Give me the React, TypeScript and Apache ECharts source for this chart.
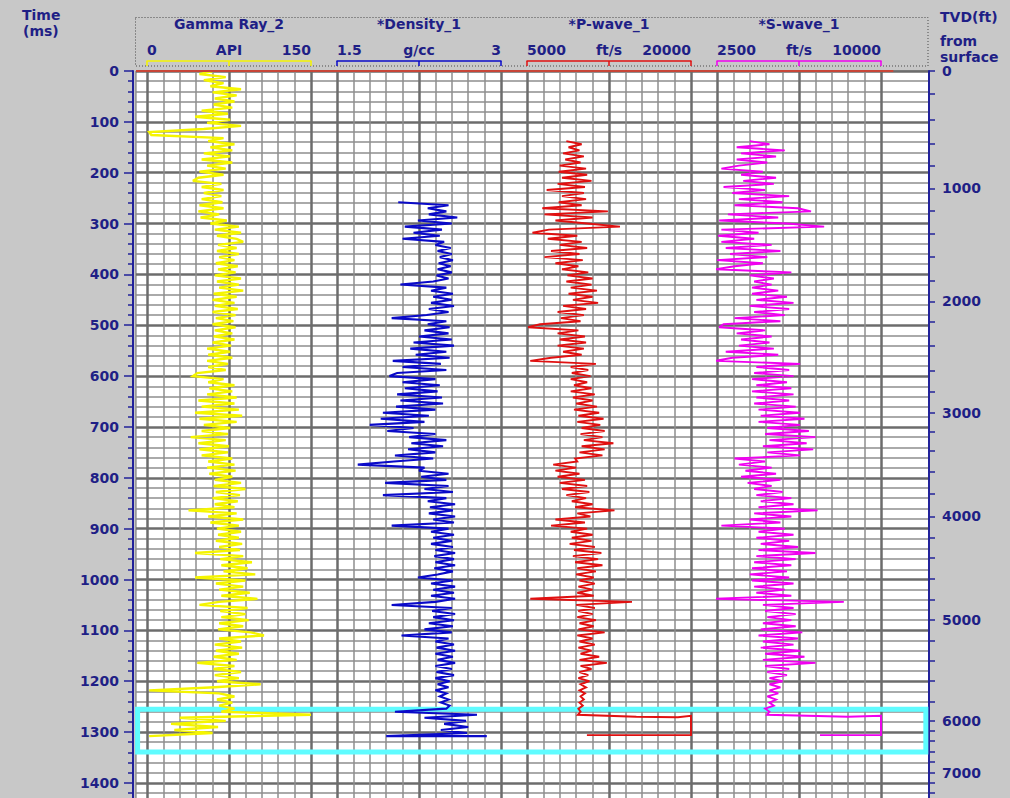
import React, { useEffect, useRef } from "react";
import * as echarts from "echarts";

// ---------------- data ----------------
const TIME_MAX = 1440;
const TIME_LABEL_MAX = 1400;
const SAMPLE_MS = 6;

const trackTitles = ["Gamma Ray_2", "*Density_1", "*P-wave_1", "*S-wave_1"];
const trackScaleLabels = [
  ["0", "API", "150"],
  ["1.5", "g/cc", "3"],
  ["5000", "ft/s", "20000"],
  ["2500", "ft/s", "10000"],
];
const trackMin = [0, 1.5, 5000, 2500];
const trackMax = [150, 3, 20000, 10000];
const trackColors = ["#f5f500", "#0a0ac8", "#e01010", "#f000f0"];
const trackLineWidths = [2.4, 2.1, 1.9, 1.9];

const gammaStart = 0;
const gammaValues = [
  60, 48, 72, 52, 70, 58, 86, 60, 82, 62,
  80, 61, 78, 50, 74, 44, 76, 55, 86, 52,
  2, 4, 70, 56, 80, 58, 78, 52, 76, 50,
  78, 55, 72, 48, 70, 47, 42, 68, 50, 70,
  52, 68, 50, 69, 48, 70, 47, 66, 49, 73,
  58, 84, 62, 86, 64, 82, 88, 65, 82, 64,
  84, 66, 80, 63, 83, 65, 81, 62, 86, 64,
  84, 66, 88, 61, 82, 60, 80, 62, 83, 60,
  81, 63, 79, 60, 81, 62, 78, 61, 80, 60,
  77, 55, 76, 56, 78, 55, 74, 56, 72, 46,
  42, 70, 56, 80, 57, 78, 55, 82, 47, 80,
  50, 84, 44, 87, 48, 82, 52, 76, 50, 74,
  40, 72, 47, 75, 48, 74, 50, 78, 56, 80,
  55, 81, 57, 78, 62, 86, 61, 90, 63, 85,
  60, 83, 62, 80, 38, 82, 56, 88, 58, 84,
  64, 86, 65, 84, 63, 87, 66, 85, 44, 88,
  67, 96, 68, 92, 70, 99, 44, 90, 63, 88,
  66, 94, 68, 101, 66, 48, 92, 67, 90, 68,
  93, 66, 88, 65, 95, 107, 66, 86, 62, 87,
  63, 84, 61, 82, 46, 80, 61, 86, 62, 84,
  64, 104, 62, 2, 66, 80, 64, 78, 66, 80,
  68, 150, 30, 72, 22, 65, 25, 60, 2,
];
const gammaTail: number[][] = [];

const densityStart = 258;
const densityValues = [
  2.06, 2.52, 2.33, 2.5, 2.34, 2.6, 2.24, 2.55, 2.12, 2.46,
  2.2, 2.44, 2.1, 2.48, 2.4, 2.54, 2.42, 2.55, 2.44, 2.56,
  2.43, 2.54, 2.42, 2.55, 2.41, 2.52, 2.38, 2.08, 2.5, 2.36,
  2.56, 2.38, 2.55, 2.36, 2.57, 2.34, 2.52, 2.32, 2.0, 2.5,
  2.33, 2.53, 2.3, 2.52, 2.25, 2.55, 2.2, 2.57, 2.17, 2.5,
  2.22, 2.53, 2.01, 2.45, 2.1, 2.5, 2.05, 1.98, 2.4, 2.1,
  2.44, 2.12, 2.42, 2.05, 2.46, 2.08, 2.47, 2.04, 2.4, 1.92,
  2.34, 1.9, 2.3, 1.8, 2.2, 1.96, 2.4, 2.16, 2.5, 2.18,
  2.47, 2.15, 2.4, 2.03, 2.38, 2.02, 1.69, 2.3, 2.25, 2.52,
  2.27, 2.5, 1.94, 2.52, 2.3, 2.56, 1.92, 2.5, 2.33, 2.58,
  2.35, 2.56, 2.34, 2.58, 2.38, 2.57, 2.0, 2.52, 2.36, 2.57,
  2.38, 2.55, 2.36, 2.56, 2.4, 2.58, 2.39, 2.57, 2.4, 2.58,
  2.39, 2.56, 2.42, 2.24, 2.56, 2.36, 2.58, 2.38, 2.57, 2.36,
  2.58, 2.4, 2.0, 2.55, 2.37, 2.58, 2.38, 2.57, 2.34, 2.56,
  2.3, 2.55, 2.09, 2.52, 2.4, 2.57, 2.41, 2.58, 2.4, 2.56,
  2.42, 2.58, 2.4, 2.55, 2.41, 2.57, 2.4, 2.53, 2.42, 2.52,
  2.4, 2.5, 2.44, 2.52, 2.45, 2.53, 2.5, 2.03, 2.78, 2.3,
  2.68, 2.48, 2.7, 2.45, 2.69, 1.95,
];
const densityTail = [[2.87, 1308]];

const pwaveStart = 138;
const pwaveValues = [
  8600, 10000, 8800, 9800, 8300, 10200, 8500, 9900, 8000, 10400,
  7900, 10500, 8200, 10900, 7800, 10300, 6800, 10200, 8200, 10400,
  7900, 10000, 6400, 12400, 6600, 11000, 7600, 10500, 13500, 7000,
  5500, 9600, 6900, 10000, 8000, 10500, 7200, 9800, 6600, 10100,
  7600, 9700, 8200, 10600, 8700, 11000, 8600, 10900, 9000, 11400,
  8800, 11000, 9200, 11500, 8300, 10400, 7800, 10200, 8100, 9900,
  6200, 5100, 9700, 7800, 10300, 8000, 10400, 7800, 10200, 8300,
  10000, 7200, 5300, 11300, 9000, 10600, 9100, 10800, 9000, 10500,
  9300, 10900, 9000, 11200, 9200, 11000, 9500, 11400, 9300, 11600,
  9700, 12000, 9600, 11700, 10000, 12100, 9900, 11900, 10200, 12900,
  10000, 12100, 9800, 11900, 9400, 9600, 7400, 9500, 7600, 9800,
  7800, 10300, 8000, 10500, 8200, 10700, 8600, 10400, 9100, 11000,
  9400, 13000, 9600, 10800, 7600, 10300, 7200, 10500, 9000, 11000,
  9100, 10900, 8900, 11200, 9300, 11800, 9200, 11500, 9400, 11900,
  9600, 11300, 9500, 11100, 9800, 11200, 9700, 11000, 9600, 11100,
  5300, 14600, 9500, 11200, 9700, 11000, 9600, 11300, 9800, 11100,
  9700, 12100, 9600, 11000, 9800, 11200, 9700, 10900, 9900, 11600,
  9800, 12300, 9900, 10900, 9800, 10600, 9700, 10700, 9900, 10400,
  9800, 10300, 9900, 10200, 9800, 10100, 9700, 9900,
];
const pwaveTail = [
  [9650, 1266], [15000, 1270], [18800, 1271], [20000, 1268],
  [20000, 1306], [10480, 1306],
];

const swaveStart = 138;
const swaveValues = [
  4000, 4900, 3400, 5600, 3600, 5200, 3400, 4800, 3500, 2700,
  4600, 3600, 5200, 3700, 5100, 2800, 4700, 3200, 5800, 3500,
  5500, 3300, 6200, 6800, 3000, 5300, 2600, 5700, 7400, 2700,
  4400, 2550, 4200, 2700, 5000, 2900, 5400, 3100, 4800, 2500,
  4600, 3300, 2450, 5900, 4000, 5100, 4200, 5000, 4100, 5300,
  4100, 5700, 4300, 6000, 4000, 5800, 4200, 5600, 3300, 5400,
  2800, 2600, 4700, 3400, 5000, 3600, 4900, 3500, 5100, 2900,
  5300, 3200, 2450, 6300, 4300, 5800, 4200, 6000, 4100, 5700,
  4300, 5900, 4100, 6000, 4300, 5800, 4200, 6100, 4400, 6300,
  4500, 6500, 4400, 6300, 4800, 6700, 4700, 7000, 4900, 6600,
  4600, 6900, 4800, 6300, 3300, 4700, 3500, 5000, 3800, 5200,
  3600, 5400, 3900, 5000, 4200, 5500, 4300, 5900, 4500, 6000,
  4400, 7100, 4200, 5900, 4000, 5400, 2700, 5600, 4400, 6000,
  4300, 5800, 4500, 6200, 4400, 7000, 4300, 6100, 4200, 5900,
  4100, 5700, 4000, 5800, 4100, 6000, 4200, 5600, 4300, 5900,
  2450, 8300, 4600, 6000, 4700, 6100, 4800, 5900, 4600, 6100,
  4500, 6400, 4400, 6200, 4600, 6000, 4500, 6300, 4700, 6500,
  4600, 7000, 4700, 5800, 4800, 5700, 4900, 5500, 4900, 5400,
  4900, 5300, 4800, 5200, 4900, 5100, 4700, 4900,
];
const swaveTail = [
  [4790, 1266], [8500, 1270], [10000, 1268],
  [10000, 1306], [7210, 1306],
];

// TVD (ft) axis: label values and the two-way time (ms) at which each sits
const tvdLabels = ["0", "1000", "2000", "3000", "4000", "5000", "6000", "7000"];
const tvdLabelTimes = [0, 231, 453, 672, 876, 1080, 1278, 1380];
const tvdMinorTimes = [
  44, 95, 143, 187, 274, 320, 366, 412, 494, 541, 589, 631, 710, 746, 789, 832,
  917, 958, 998, 1039, 1120, 1160, 1200, 1241, 1298, 1318, 1339, 1359, 1400, 1420,
];

const surfaceLineExtent = [0, 95.5];
const highlightWindow = [1255, 1339];
const highlightX = [0.2, 99.6];

// ---------------- layout / style ----------------
const PLOT_LEFT = 136;
const PLOT_RIGHT = 929;
const PLOT_TOP = 71;
const PX_PER_MS = 0.5085;
const GRID_H = TIME_MAX * PX_PER_MS;
const TRACK_LEFTS = [147, 337, 527, 717];
const TRACK_W = 164;

const TEXT_BLUE = "#1f1f86";
const AXIS_BLUE = "#22229a";
const GRID_DARK = "#6c6c6c";
const GRID_LIGHT = "#8e8e8e";
const txt = {
  fontFamily: "DejaVu Sans",
  fontWeight: "bold" as const,
  fontSize: 14,
  color: TEXT_BLUE,
};

function buildSeriesData(start: number, values: number[], tail: number[][]) {
  const pts = values.map((v, i) => [v, start + i * SAMPLE_MS]);
  return pts.concat(tail);
}

export default function App() {
  const ref = useRef<HTMLDivElement>(null);

  useEffect(() => {
    if (!ref.current) return;
    const chart = echarts.init(ref.current, undefined, { renderer: "svg" });

    const curves = [
      buildSeriesData(gammaStart, gammaValues, gammaTail),
      buildSeriesData(densityStart, densityValues, densityTail),
      buildSeriesData(pwaveStart, pwaveValues, pwaveTail),
      buildSeriesData(swaveStart, swaveValues, swaveTail),
    ];

    const grids: any[] = [
      {
        left: PLOT_LEFT,
        top: PLOT_TOP,
        width: PLOT_RIGHT - PLOT_LEFT,
        height: GRID_H,
        show: true,
        backgroundColor: "#ffffff",
        borderColor: GRID_DARK,
        borderWidth: 1,
      },
    ];
    TRACK_LEFTS.forEach((l) =>
      grids.push({ left: l, top: PLOT_TOP, width: TRACK_W, height: GRID_H, show: false })
    );

    const xAxes: any[] = [
      { gridIndex: 0, type: "value", min: 0, max: 100, show: false },
    ];
    const yAxes: any[] = [
      {
        gridIndex: 0,
        type: "value",
        inverse: true,
        min: 0,
        max: TIME_MAX,
        interval: 100,
        position: "left",
        offset: 3,
        axisLine: { show: true, onZero: false, lineStyle: { color: AXIS_BLUE, width: 2 } },
        axisTick: { show: true, length: 9, lineStyle: { color: AXIS_BLUE, width: 1.5 } },
        minorTick: { show: true, splitNumber: 5, length: 5, lineStyle: { color: AXIS_BLUE, width: 1.5 } },
        axisLabel: {
          margin: 14,
          ...txt,
          formatter: (v: number) => (v % 100 === 0 && v <= TIME_LABEL_MAX ? String(v) : ""),
        },
        splitLine: { show: true, lineStyle: { color: GRID_DARK, width: 2.5 } },
        minorSplitLine: { show: true, lineStyle: { color: GRID_LIGHT, width: 1.5 } },
      },
      {
        gridIndex: 0,
        type: "value",
        inverse: true,
        min: 0,
        max: TIME_MAX,
        position: "right",
        axisLine: { show: true, onZero: false, lineStyle: { color: AXIS_BLUE, width: 2 } },
        axisTick: {
          show: true,
          length: 6,
          customValues: tvdLabelTimes.concat(tvdMinorTimes),
          lineStyle: { color: AXIS_BLUE, width: 1.5 },
        },
        axisLabel: {
          margin: 13,
          ...txt,
          customValues: tvdLabelTimes,
          formatter: (v: number) => {
            const k = tvdLabelTimes.indexOf(v);
            return k >= 0 ? tvdLabels[k] : "";
          },
        },
        splitLine: { show: false },
      },
    ];

    const series: any[] = [];

    TRACK_LEFTS.forEach((_, i) => {
      const c = trackColors[i];
      const lbls = trackScaleLabels[i];
      xAxes.push({
        gridIndex: i + 1,
        type: "value",
        min: 0,
        max: 10,
        interval: 5,
        position: "top",
        offset: 10,
        name: trackTitles[i],
        nameLocation: "middle",
        nameGap: 30,
        nameTextStyle: { ...txt },
        axisLine: { show: true, onZero: false, lineStyle: { color: c, width: 1.5 } },
        axisTick: { show: true, inside: true, length: 5, lineStyle: { color: c, width: 1.5 } },
        minorTick: { show: false, splitNumber: 5 },
        axisLabel: {
          show: true,
          margin: 4,
          ...txt,
          alignMinLabel: "left",
          alignMaxLabel: "right",
          formatter: (v: number) => (v === 0 ? lbls[0] : v === 5 ? lbls[1] : v === 10 ? lbls[2] : ""),
        },
        splitLine: { show: true, lineStyle: { color: GRID_DARK, width: 2.5 } },
        minorSplitLine: { show: true, lineStyle: { color: GRID_LIGHT, width: 1.5 } },
      });
      xAxes.push({
        gridIndex: i + 1,
        type: "value",
        min: trackMin[i],
        max: trackMax[i],
        show: false,
        axisLine: { onZero: false },
      });
      yAxes.push({
        gridIndex: i + 1,
        type: "value",
        inverse: true,
        min: 0,
        max: TIME_MAX,
        show: false,
        axisLine: { onZero: false },
      });
      series.push({
        type: "line",
        name: trackTitles[i],
        xAxisIndex: 2 + 2 * i,
        yAxisIndex: 2 + i,
        data: curves[i],
        symbol: "none",
        showSymbol: false,
        silent: true,
        clip: true,
        z: 3,
        lineStyle: { color: c, width: trackLineWidths[i], join: "miter", miterLimit: 3 },
      });
    });

    series.push({
      type: "line",
      xAxisIndex: 0,
      yAxisIndex: 0,
      data: [
        [surfaceLineExtent[0], 0],
        [surfaceLineExtent[1], 0],
      ],
      symbol: "none",
      silent: true,
      clip: false,
      z: 5,
      lineStyle: { color: "#c84638", width: 2 },
      markArea: {
        silent: true,
        itemStyle: { color: "rgba(0,0,0,0)", borderColor: "#5ffcff", borderWidth: 5 },
        data: [
          [
            { xAxis: highlightX[0], yAxis: highlightWindow[0] },
            { xAxis: highlightX[1], yAxis: highlightWindow[1] },
          ],
        ],
      },
    });

    const gtext = (text: string, x: number, y: number, align = "left") => ({
      type: "text",
      x,
      y,
      silent: true,
      style: {
        text,
        fill: TEXT_BLUE,
        font: "bold 14px 'DejaVu Sans'",
        align,
        verticalAlign: "middle",
      },
    });

    chart.setOption({
      animation: false,
      backgroundColor: "#c8c8c8",
      textStyle: { fontFamily: "DejaVu Sans" },
      grid: grids,
      xAxis: xAxes,
      yAxis: yAxes,
      series,
      graphic: [
        {
          type: "rect",
          silent: true,
          shape: { x: 135.5, y: 17.5, width: 792.5, height: 48.5 },
          style: { fill: "none", stroke: "#4a4a4a", lineWidth: 1, lineDash: [1, 2] },
        },
        gtext("Time", 22, 15),
        gtext("(ms)", 23, 31),
        gtext("TVD(ft)", 940, 17),
        gtext("from", 940, 41),
        gtext("surface", 940, 57),
      ],
    });

    return () => chart.dispose();
  }, []);

  return (
    <div
      ref={ref}
      style={{ position: "fixed", left: 0, top: 0, width: 1010, height: 830 }}
    />
  );
}
